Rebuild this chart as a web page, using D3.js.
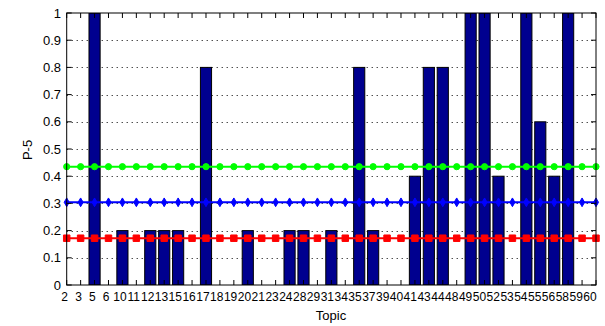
<!DOCTYPE html>
<html>
<head>
<meta charset="utf-8">
<script src="https://cdnjs.cloudflare.com/ajax/libs/d3/7.8.5/d3.min.js"></script>
<style>
  body { margin: 0; background: #fff; }
  text { font-family: "Liberation Sans", Arial, sans-serif; fill: #000; }
</style>
</head>
<body>
<div id="chart"></div>
<script>
var topics = ["2", "3", "5", "6", "10", "11", "12", "13", "15", "16", "17", "18", "19", "20", "21", "23", "24", "28", "29",
  "31", "34", "35", "37", "39", "40", "41", "43", "44", "48", "49", "50", "52", "53", "54", "55", "56", "58", "59", "60"];
var p5 = [0, 0, 1, 0, 0.2, 0, 0.2, 0.2, 0.2, 0, 0.8, 0, 0, 0.2, 0, 0, 0.2, 0.2, 0,
  0.2, 0, 0.8, 0.2, 0, 0, 0.4, 0.8, 0.8, 0, 1, 1, 0.4, 0, 1, 0.6, 0.4, 1, 0, 0];
var yTicks = [0, 0.1, 0.2, 0.3, 0.4, 0.5, 0.6, 0.7, 0.8, 0.9, 1];
// mean lines (constant across topics)
var meanLines = [
  {name: "green", value: 0.435, color: "#00ff00", marker: "circle"},
  {name: "blue", value: 0.304, color: "#0000ff", marker: "diamond"},
  {name: "red", value: 0.172, color: "#ff0000", marker: "square"}
];

var w = 605, h = 326,
  pl = 66.7, pr = 596, pt = 13, pb = 285;

var svg = d3.select("#chart").append("svg")
  .attr("width", w)
  .attr("height", h);

var x = d3.scalePoint().domain(topics).range([pl, pr]).padding(0);
// tick labels sit a little left of their ticks in the original
var xLab = d3.scalePoint().domain(topics).range([pl - 2, pr - 6]).padding(0);
var y = d3.scaleLinear().domain([0, 1]).range([pb, pt]);
var barW = x.step() * 0.8;

svg.append("clipPath").attr("id", "plotclip")
  .append("rect")
  .attr("x", pl).attr("y", pt)
  .attr("width", pr - pl).attr("height", pb - pt);

svg.append("rect")
  .attr("x", pl).attr("y", pt)
  .attr("width", pr - pl).attr("height", pb - pt)
  .attr("fill", "#fff");

// dotted grid
svg.append("g")
  .selectAll("line")
  .data(yTicks.slice(1, -1))
  .enter().append("line")
  .attr("x1", pl).attr("x2", pr)
  .attr("y1", function (d) { return Math.round(y(d)) + 0.5; })
  .attr("y2", function (d) { return Math.round(y(d)) + 0.5; })
  .attr("stroke", "#000")
  .attr("stroke-width", 1)
  .attr("stroke-dasharray", "1,4");

// bars
svg.append("g")
  .attr("clip-path", "url(#plotclip)")
  .selectAll("rect")
  .data(topics)
  .enter().append("rect")
  .attr("x", function (d) { return x(d) - barW / 2; })
  .attr("y", function (d, i) { return y(p5[i]); })
  .attr("width", barW)
  .attr("height", function (d, i) { return pb - y(p5[i]); })
  .attr("fill", "#00008f")
  .attr("stroke", "#000")
  .attr("stroke-width", 1);

// mean lines with markers
meanLines.forEach(function (s) {
  var g = svg.append("g");
  g.append("line")
    .attr("x1", pl).attr("x2", pr)
    .attr("y1", y(s.value)).attr("y2", y(s.value))
    .attr("stroke", s.color)
    .attr("stroke-width", 2);
  var sym = s.marker === "circle" ? d3.symbolCircle : s.marker === "square" ? d3.symbolSquare : d3.symbolDiamond;
  var size = s.marker === "circle" ? 30 : s.marker === "square" ? 42 : 22;
  g.selectAll("path")
    .data(topics)
    .enter().append("path")
    .attr("d", d3.symbol().type(sym).size(size))
    .attr("transform", function (d) { return "translate(" + x(d) + "," + y(s.value) + ")"; })
    .attr("fill", s.color)
    .attr("stroke", s.color)
    .attr("stroke-width", 1);
});

// axes box
svg.append("rect")
  .attr("x", pl).attr("y", pt)
  .attr("width", pr - pl).attr("height", pb - pt)
  .attr("fill", "none")
  .attr("stroke", "#000")
  .attr("stroke-width", 1);

// x ticks (bottom + top, inward)
var xt = svg.append("g");
xt.selectAll("line.b")
  .data(topics)
  .enter().append("line")
  .attr("class", "b")
  .attr("x1", function (d) { return x(d); }).attr("x2", function (d) { return x(d); })
  .attr("y1", pb).attr("y2", pb - 5)
  .attr("stroke", "#000");
xt.selectAll("line.t")
  .data(topics)
  .enter().append("line")
  .attr("class", "t")
  .attr("x1", function (d) { return x(d); }).attr("x2", function (d) { return x(d); })
  .attr("y1", pt).attr("y2", pt + 5)
  .attr("stroke", "#000");
xt.selectAll("text")
  .data(topics)
  .enter().append("text")
  .attr("x", function (d) { return xLab(d); })
  .attr("y", 301)
  .attr("text-anchor", "middle")
  .attr("font-size", "12px")
  .text(function (d) { return d; });

// y ticks (left + right, inward)
var yt = svg.append("g");
yt.selectAll("line.l")
  .data(yTicks)
  .enter().append("line")
  .attr("class", "l")
  .attr("x1", pl).attr("x2", pl + 5)
  .attr("y1", function (d) { return y(d); }).attr("y2", function (d) { return y(d); })
  .attr("stroke", "#000");
yt.selectAll("line.r")
  .data(yTicks)
  .enter().append("line")
  .attr("class", "r")
  .attr("x1", pr).attr("x2", pr - 5)
  .attr("y1", function (d) { return y(d); }).attr("y2", function (d) { return y(d); })
  .attr("stroke", "#000");
yt.selectAll("text")
  .data(yTicks)
  .enter().append("text")
  .attr("x", 61)
  .attr("y", function (d) { return y(d) + 4.5; })
  .attr("text-anchor", "end")
  .attr("font-size", "13px")
  .text(function (d) { return d; });

svg.append("text")
  .attr("transform", "translate(32,150) rotate(-90)")
  .attr("text-anchor", "middle")
  .attr("font-size", "13px")
  .text("P-5");

svg.append("text")
  .attr("x", 331)
  .attr("y", 320)
  .attr("text-anchor", "middle")
  .attr("font-size", "13px")
  .text("Topic");
</script>
</body>
</html>
